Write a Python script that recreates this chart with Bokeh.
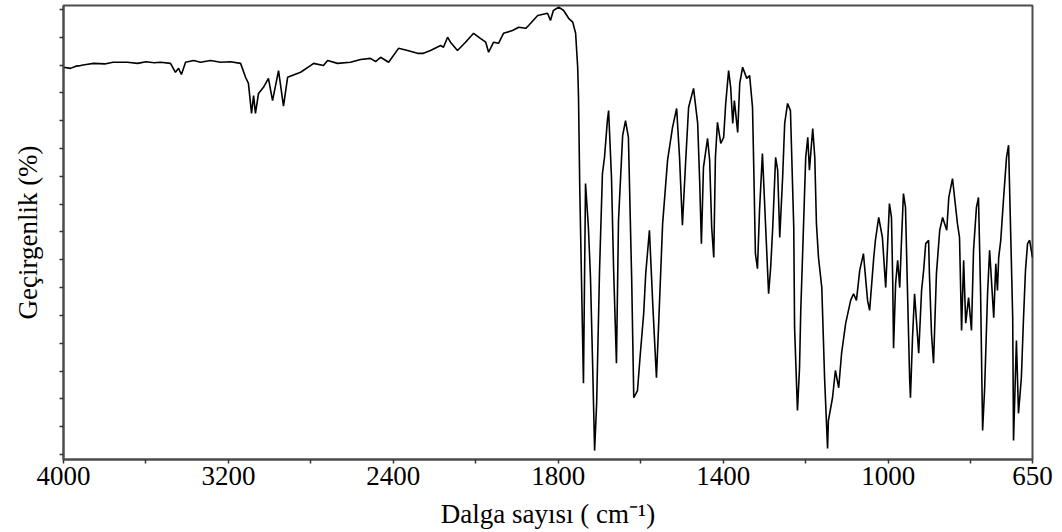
import numpy as np
from bokeh.plotting import figure
from bokeh.models import Range1d, FixedTicker, CustomJSTickFormatter, ColumnDataSource
from bokeh.embed import file_html
from bokeh.resources import INLINE

# IR spectrum (wavenumber cm-1, transmittance %)
wavenumber = [4000, 3966, 3940, 3918, 3890, 3854, 3800, 3760, 3690, 3640, 3600, 3560, 3529, 3481,
              3457, 3442, 3428, 3408, 3369, 3335, 3287,
              3238, 3190, 3141, 3117, 3103, 3088, 3078, 3069, 3054, 3030, 3006, 2986, 2957, 2933,
              2913, 2850, 2802, 2787, 2739, 2719, 2671, 2608, 2559, 2511, 2486, 2462, 2423, 2375,
              2331, 2283, 2254, 2220, 2171, 2157, 2137, 2123, 2089, 2050, 2011,
              1989, 1976, 1969, 1957, 1945, 1933, 1911, 1896, 1879, 1872, 1850, 1826, 1819, 1812,
              1799, 1787, 1775, 1765, 1758, 1753, 1751, 1748, 1739, 1734, 1727, 1722, 1717, 1712,
              1707, 1700, 1693, 1688, 1681, 1678, 1671, 1666, 1659, 1654, 1644, 1637, 1630, 1622,
              1617, 1608, 1601, 1593, 1588, 1579, 1571, 1562, 1557, 1547, 1535, 1523, 1513, 1506,
              1499, 1491, 1484, 1472, 1462, 1457, 1453, 1448, 1438, 1433, 1428, 1423, 1419, 1414,
              1406, 1399, 1394, 1387, 1382, 1377, 1373, 1365, 1360, 1353, 1343, 1336, 1329, 1326,
              1322, 1317, 1312, 1305, 1300, 1290, 1285, 1280, 1273, 1268, 1263, 1256, 1251, 1244,
              1237, 1229, 1227, 1220, 1215, 1212, 1208, 1200, 1195, 1191, 1183, 1178, 1174, 1169,
              1161, 1154, 1147, 1145, 1135, 1128, 1120, 1113, 1103, 1091, 1084, 1077, 1069, 1060,
              1050, 1045, 1035, 1031, 1023, 1014, 1006, 997, 992, 989, 987, 982, 977, 972, 968,
              963, 958, 953, 948, 946, 941, 936, 931, 926, 919, 914, 909, 902, 900, 895, 890, 883,
              875, 868, 858, 853, 844, 839, 832, 827, 822, 817, 812, 805, 798, 793, 786, 781, 776,
              771, 766, 759, 754, 744, 739, 735, 732, 727, 720, 713, 708, 706, 698, 696, 689, 684,
              677, 672, 667, 662, 657, 650]
transmittance = [69.6, 69.4, 69.8, 69.9, 70.1, 70.3, 70.2, 70.5, 70.5, 70.3, 70.6, 70.4, 70.5, 70.3,
                 68.7, 69.4, 68.3, 70.5, 70.8, 70.5, 70.8,
                 70.5, 70.6, 70.3, 67.8, 66.7, 61.3, 64.5, 61.3, 64.9, 66.0, 67.6, 63.6, 69.0, 62.6,
                 67.8, 68.7, 69.9, 70.3, 69.9, 70.8, 70.3, 70.5, 71.0, 71.2, 70.6, 71.4, 70.5, 73.0,
                 72.6, 72.1, 72.1, 72.6, 73.5, 73.2, 75.0, 74.1, 72.6, 74.1, 75.7,
                 74.8, 74.1, 72.3, 74.1, 73.9, 75.7, 76.2, 76.8, 76.6, 77.1, 78.9, 79.3, 78.0, 79.8,
                 80.4, 79.8, 78.4, 77.7, 75.7, 69.6, 64.2, 48.0, 12.8, 48.7, 40.8, 31.8, 16.9, 0.7,
                 9.2, 33.1, 50.5, 53.4, 60.0, 61.8, 49.8, 33.6, 16.4, 42.1, 57.3, 60.0, 57.0, 31.3,
                 10.2, 11.5, 18.2, 25.3, 32.5, 40.3, 27.1, 13.8, 22.8, 41.5, 52.9, 58.8, 62.2, 53.4,
                 41.2, 52.9, 62.4, 65.8, 59.5, 48.7, 37.9, 51.6, 56.8, 52.9, 40.8, 35.4, 53.4, 59.7,
                 55.9, 57.0, 63.1, 69.0, 66.0, 59.5, 63.6, 57.9, 66.7, 69.6, 67.6, 68.1, 62.4, 51.6,
                 36.1, 33.4, 43.9, 54.1, 45.7, 28.9, 33.6, 40.8, 53.4, 51.1, 39.0, 49.8, 59.5, 63.1,
                 61.8, 40.8, 22.8, 7.9, 15.6, 25.9, 34.9, 53.4, 57.0, 51.1, 58.6, 53.4, 41.5, 35.4,
                 30.0, 13.3, 1.1, 6.1, 10.2, 15.1, 12.0, 18.2, 23.6, 27.7, 28.9, 27.7, 33.1, 36.1,
                 27.7, 25.9, 35.4, 38.5, 42.6, 39.0, 30.0, 45.1, 42.6, 31.3, 19.1, 30.7, 34.9, 30.0, 37.9,
                 46.9, 44.4, 28.9, 13.8, 10.2, 21.0, 28.9, 23.6, 18.2, 29.5, 33.1, 37.9, 38.5, 32.5, 21.8, 16.4, 32.5,
                 40.3, 42.6, 40.3, 46.2, 49.6, 46.2, 41.5, 39.0, 22.3, 34.9, 23.6, 28.2, 22.3, 36.7, 44.4, 46.2, 29.5,
                 4.3, 12.0, 28.9, 36.7, 24.6, 34.3, 29.5, 35.4, 38.5, 46.2, 53.4, 55.6, 49.3, 24.6, 2.5, 20.5, 7.4,
                 13.8, 24.1, 33.1, 37.9, 38.5, 35.4]

major_wavenumbers = [4000, 3200, 2400, 1800, 1400, 1000, 650]
minor_wavenumbers = [3600, 2800, 2000, 1600, 1200, 800]
y_ticks = list(range(0, 81, 5))


def axis_pos(wn):
    # spectrometer abscissa: scale doubles below 2000 cm-1
    wn = np.asarray(wn, dtype=float)
    return np.where(wn >= 2000, (4000 - wn) / 2.0, 1000 + (2000 - wn))


src = ColumnDataSource(dict(x=axis_pos(wavenumber), y=transmittance))

p = figure(width=1062, height=532, output_backend="svg", toolbar_location=None,
           x_range=Range1d(0, 2350), y_range=Range1d(-0.9, 80.7),
           min_border_left=63, min_border_right=30, min_border_top=5, min_border_bottom=73)
p.line("x", "y", source=src, line_color="black", line_width=1.6)

p.xgrid.visible = False
p.ygrid.visible = False
p.background_fill_color = "white"
p.border_fill_color = "white"
p.outline_line_color = "#4d4d4d"
p.outline_line_width = 2

p.xaxis.ticker = FixedTicker(ticks=list(axis_pos(major_wavenumbers)),
                             minor_ticks=list(axis_pos(minor_wavenumbers)))
p.xaxis.formatter = CustomJSTickFormatter(code="""
    const wn = tick <= 1000 ? 4000 - 2 * tick : 3000 - tick;
    return String(Math.round(wn));
""")
p.yaxis.ticker = FixedTicker(ticks=y_ticks, minor_ticks=[])
p.yaxis.formatter = CustomJSTickFormatter(code="return '';")

for ax in (p.xaxis[0], p.yaxis[0]):
    ax.axis_line_color = "#4d4d4d"
    ax.axis_line_width = 2
    ax.major_tick_line_color = "#333333"
    ax.minor_tick_line_color = "#333333"
    ax.major_tick_line_width = 1.5
    ax.minor_tick_line_width = 1.5
    ax.major_tick_in = 0
    ax.minor_tick_in = 0
    ax.major_tick_out = 4
    ax.minor_tick_out = 4
    ax.major_label_text_font = "Liberation Serif"
    ax.major_label_text_font_size = "27px"
    ax.major_label_text_color = "black"
    ax.axis_label_text_font = "Liberation Serif"
    ax.axis_label_text_font_size = "27px"
    ax.axis_label_text_font_style = "normal"
    ax.axis_label_text_color = "black"

p.xaxis.major_label_standoff = 3
p.xaxis.axis_label = "Dalga sayısı ( cm⁻¹)"
p.xaxis.axis_label_standoff = 11
p.yaxis.major_label_standoff = 0
p.yaxis.axis_label = "Geçirgenlik (%)"
p.yaxis.axis_label_standoff = 17

open("out.html", "w").write(file_html(p, INLINE))
